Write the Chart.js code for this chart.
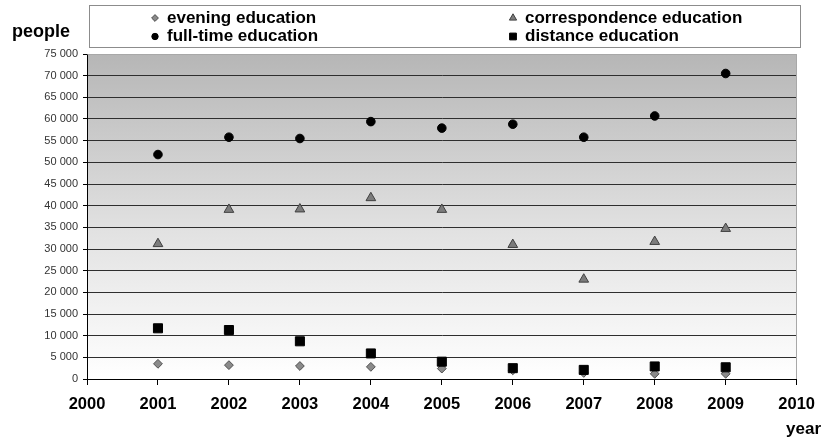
<!DOCTYPE html>
<html>
<head>
<meta charset="utf-8">
<title>Students by form of education</title>
<script src="https://cdn.jsdelivr.net/npm/chart.js@4.4.1/dist/chart.umd.min.js"></script>
<style>
  html, body { margin: 0; padding: 0; background: #ffffff; }
  #wrap { width: 825px; height: 441px; position: relative; }
</style>
</head>
<body>
<div id="wrap"><canvas id="chart" width="825" height="441"></canvas></div>
<script>
// Years on the horizontal axis
const years = [2001, 2002, 2003, 2004, 2005, 2006, 2007, 2008, 2009];

// Number of students per form of education
const eveningEducation        = [3500, 3200, 3000, 2800, 2400, 2000, 1400, 1200, 1200];
const correspondenceEducation = [31200, 39100, 39200, 41800, 39100, 31000, 23000, 31700, 34700];
const fullTimeEducation       = [51800, 55800, 55500, 59400, 57900, 58800, 55800, 60700, 70500];
const distanceEducation       = [11700, 11300, 8700, 5900, 4000, 2500, 2100, 2900, 2700];

// Axis ranges and tick steps
const yearRange = [2000, 2010];
const yearStep = 1;
const peopleRange = [0, 75000];
const peopleStep = 5000;

// Series names (legend order: left column, right column)
const seriesNames = ['evening education', 'correspondence education', 'full-time education', 'distance education'];

const FONT = '"Liberation Sans", Arial, Helvetica, sans-serif';

const toPoints = (vals) => years.map((y, i) => ({ x: y, y: vals[i] }));
const thousands = (v) => String(v).replace(/\B(?=(\d{3})+(?!\d))/g, ' ');

const styles = {
  'evening education':        { pointStyle: 'rectRot',  radius: 4.4, bg: '#8a8a8a', border: '#505050', lr: 3.4 },
  'correspondence education': { pointStyle: 'triangle', radius: 5.6, bg: '#7c7c7c', border: '#404040', lr: 4.2 },
  'full-time education':      { pointStyle: 'circle',   radius: 4.3, bg: '#000000', border: '#000000', lr: 3.2 },
  'distance education':       { pointStyle: 'rect',     radius: 6.4, bg: '#000000', border: '#000000', lr: 4.8 }
};

function makeDataset(name, vals, order) {
  const s = styles[name];
  return {
    label: name,
    data: toPoints(vals),
    showLine: false,
    order: order,
    pointStyle: s.pointStyle,
    pointRadius: s.radius,
    pointHoverRadius: s.radius,
    pointBackgroundColor: s.bg,
    pointBorderColor: s.border,
    pointBorderWidth: 1,
    backgroundColor: s.bg,
    borderColor: s.border
  };
}

// Simple marker painter for the legend box
function drawMarker(ctx, style, x, y, r, fill, stroke) {
  ctx.save();
  ctx.beginPath();
  if (style === 'circle') {
    ctx.arc(x, y, r, 0, Math.PI * 2);
  } else if (style === 'rect') {
    const h = r * Math.SQRT1_2;
    ctx.rect(x - h, y - h, 2 * h, 2 * h);
  } else if (style === 'rectRot') {
    ctx.moveTo(x, y - r); ctx.lineTo(x + r, y); ctx.lineTo(x, y + r); ctx.lineTo(x - r, y);
    ctx.closePath();
  } else if (style === 'triangle') {
    ctx.moveTo(x, y - r);
    ctx.lineTo(x + r * Math.sin(Math.PI * 2 / 3), y - r * Math.cos(Math.PI * 2 / 3));
    ctx.lineTo(x - r * Math.sin(Math.PI * 2 / 3), y - r * Math.cos(Math.PI * 2 / 3));
    ctx.closePath();
  }
  ctx.fillStyle = fill;
  ctx.fill();
  ctx.lineWidth = 1;
  ctx.strokeStyle = stroke;
  ctx.stroke();
  ctx.restore();
}

// Gradient plot background, drawn under the grid
const plotBackground = {
  id: 'plotBackground',
  beforeDraw(chart) {
    const { ctx, chartArea: a } = chart;
    const g = ctx.createLinearGradient(0, a.top, 0, a.bottom);
    g.addColorStop(0, '#b6b6b6');
    g.addColorStop(0.55, '#e2e2e2');
    g.addColorStop(1, '#ffffff');
    ctx.save();
    ctx.fillStyle = g;
    ctx.fillRect(a.left, a.top, a.right - a.left, a.bottom - a.top);
    ctx.restore();
  },
  afterDatasetsDraw(chart) {
    const { ctx, chartArea: a } = chart;
    ctx.save();
    ctx.strokeStyle = '#a8a8a8';
    ctx.lineWidth = 1;
    ctx.beginPath();
    ctx.moveTo(Math.round(a.left) + 0.5, Math.round(a.top) + 0.5);
    ctx.lineTo(Math.round(a.right) - 0.5, Math.round(a.top) + 0.5);
    ctx.lineTo(Math.round(a.right) - 0.5, Math.round(a.bottom));
    ctx.stroke();
    ctx.restore();
  }
};

// Boxed two-column legend and axis captions
const legendAndTitles = {
  id: 'legendAndTitles',
  afterDraw(chart) {
    const { ctx } = chart;
    ctx.save();
    // legend frame
    ctx.fillStyle = '#ffffff';
    ctx.fillRect(90, 5, 710, 42);
    ctx.strokeStyle = '#8c8c8c';
    ctx.lineWidth = 1;
    ctx.strokeRect(89.5, 5.5, 711, 42);

    const cols = [155, 513];
    const rows = [18, 36.5];
    ctx.font = 'bold 17px ' + FONT;
    ctx.textBaseline = 'middle';
    ctx.textAlign = 'left';
    seriesNames.forEach((name, i) => {
      const s = styles[name];
      const cx = cols[i % 2];
      const cy = rows[Math.floor(i / 2)];
      drawMarker(ctx, s.pointStyle, cx, cy, s.lr, s.bg, s.border);
      ctx.fillStyle = '#000000';
      ctx.fillText(name, cx + 12, cy);
    });

    // axis captions
    ctx.font = 'bold 18px ' + FONT;
    ctx.textBaseline = 'alphabetic';
    ctx.fillText('people', 12, 36.5);
    ctx.font = 'bold 17px ' + FONT;
    ctx.textAlign = 'right';
    ctx.fillText('year', 821, 433.5);
    ctx.restore();
  }
};

new Chart(document.getElementById('chart'), {
  type: 'scatter',
  data: {
    datasets: [
      makeDataset('evening education', eveningEducation, 4),
      makeDataset('correspondence education', correspondenceEducation, 3),
      makeDataset('full-time education', fullTimeEducation, 2),
      makeDataset('distance education', distanceEducation, 1)
    ]
  },
  options: {
    responsive: false,
    animation: false,
    devicePixelRatio: 1,
    events: [],
    layout: { padding: { top: 54, right: 27, left: 0, bottom: 0 } },
    plugins: {
      legend: { display: false },
      tooltip: { enabled: false },
      title: { display: false }
    },
    scales: {
      x: {
        type: 'linear',
        min: yearRange[0],
        max: yearRange[1],
        afterFit(scale) { scale.height = 62; },
        ticks: {
          stepSize: yearStep,
          padding: 10,
          color: '#000000',
          font: { family: FONT, size: 16.5, weight: 'bold' },
          callback: (v) => String(v)
        },
        grid: {
          drawOnChartArea: false,
          drawTicks: true,
          tickLength: 6,
          color: '#000000'
        },
        border: { display: true, color: '#000000', width: 1 }
      },
      y: {
        min: peopleRange[0],
        max: peopleRange[1],
        afterFit(scale) { scale.width = 87; },
        ticks: {
          stepSize: peopleStep,
          padding: 5,
          color: '#333333',
          font: { family: FONT, size: 11 },
          callback: (v) => thousands(v)
        },
        grid: {
          drawTicks: true,
          tickLength: 4,
          color: (c) => (c.tick && c.tick.value === peopleRange[1]) ? '#a8a8a8' : (c.tick && c.tick.value === 0 ? '#000000' : '#2e2e2e'),
          tickColor: '#000000',
          lineWidth: 1
        },
        border: { display: true, color: '#000000', width: 1 }
      }
    }
  },
  plugins: [plotBackground, legendAndTitles]
});
</script>
</body>
</html>
